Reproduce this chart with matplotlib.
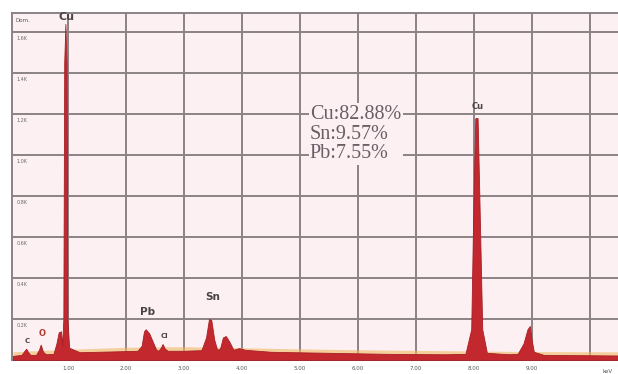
import matplotlib.pyplot as plt

# EDS spectrum: energy (keV) vs counts
energy = [0.05, 0.20, 0.25, 0.28, 0.31, 0.35, 0.45, 0.50, 0.53, 0.57, 0.62,
          0.75, 0.80, 0.84, 0.88, 0.90, 0.92, 0.935, 0.955, 0.975, 0.99, 1.02,
          1.2, 1.5, 1.8, 2.20, 2.27, 2.31, 2.34, 2.40, 2.46, 2.52, 2.56, 2.60,
          2.63, 2.67, 2.72, 3.0, 3.30, 3.38, 3.43, 3.47, 3.52, 3.57, 3.62,
          3.67, 3.72, 3.78, 3.85, 3.95, 4.05, 4.5, 5.5, 6.5, 7.5, 7.85, 7.95,
          7.99, 8.02, 8.06, 8.09, 8.14, 8.22, 8.6, 8.75, 8.85, 8.92, 8.96, 8.99,
          9.03, 9.2, 10.48]
counts = [20, 25, 45, 55, 40, 25, 25, 50, 75, 40, 28,
          30, 80, 135, 140, 70, 200, 1450, 1640, 1450, 200, 60,
          38, 40, 42, 45, 70, 140, 150, 130, 90, 50, 45, 60,
          78, 55, 45, 45, 48, 110, 200, 195, 100, 50, 55,
          110, 117, 90, 50, 58, 50, 40, 35, 30, 28, 30, 150,
          800, 1180, 1180, 800, 150, 35, 28, 30, 80, 150, 166, 100,
          40, 25, 22]

# continuum band under the peaks
bg_energy = [0.05, 1.0, 2.0, 3.0, 4.0, 5.0, 6.0, 7.0, 8.0, 9.0, 10.48]
bg_counts = [30, 42, 52, 55, 50, 44, 40, 37, 34, 31, 30]

peak_labels = [("Cu", 0.97, 1672, 8), ("Pb", 2.38, 232, 7.5), ("Sn", 3.49, 305, 7.5),
               ("Cl", 2.66, 118, 5), ("C", 0.30, 92, 5), ("O", 0.55, 130, 6),
               ("Cu", 8.06, 1235, 6)]
composition = ["Cu:82.88%", "Sn:9.57%", "Pb:7.55%"]
x_ticks = [1, 2, 3, 4, 5, 6, 7, 8, 9, 10]
x_tick_labels = ["1.00", "2.00", "3.00", "4.00", "5.00", "6.00", "7.00", "8.00", "9.00", ""]
y_ticks = [200, 400, 600, 800, 1000, 1200, 1400, 1600]
y_tick_labels = ["0.2K", "0.4K", "0.6K", "0.8K", "1.0K", "1.2K", "1.4K", "1.6K"]

bg = "#fcf0f3"
grid_c = "#8a8386"
red = "#c3282e"

fig = plt.figure(figsize=(6.18, 3.74), dpi=100, facecolor="white")
ax = fig.add_axes([12 / 618, 14 / 374, 606 / 618, 347 / 374])
ax.set_facecolor(bg)
ax.set_xlim(0.035, 10.48)
ax.set_ylim(0, 1693)

for x in x_ticks:
    ax.axvline(x, color=grid_c, lw=1.4, zorder=1)
for y in y_ticks:
    ax.axhline(y, color=grid_c, lw=1.4, zorder=1)

ax.fill_between(bg_energy, 0, [c + 10 for c in bg_counts], color="#f0b860", alpha=0.6, lw=0, zorder=2)
ax.fill_between(energy, 0, counts, color=red, lw=0.6, edgecolor="#a51f25", zorder=3)

for name, x, y, fs in peak_labels:
    c = "#b03a30" if name == "O" else "#4a4447"
    ax.text(x, y, name, ha="center", va="center", fontsize=fs, fontweight="bold",
            color=c, zorder=5, clip_on=False)

ax.text(5.17, 1245, "\n".join(composition), ha="left", va="top", multialignment="left",
        fontsize=14.5, family="Liberation Serif", color="#6b5d64", linespacing=1.05,
        zorder=6, bbox=dict(facecolor=bg, edgecolor="none", pad=1))

ax.text(0.1, 1655, "Dom.", fontsize=4, color="#555", va="center", ha="left")
for y, lab in zip(y_ticks, y_tick_labels):
    ax.text(0.12, y - 30, lab, fontsize=3.5, color="#6a6a6a", va="center", ha="left", zorder=4)

ax.set_xticks(x_ticks)
ax.set_xticklabels(x_tick_labels, fontsize=4, color="#555")
ax.text(10.3, -45, "keV", fontsize=4, color="#555", ha="center", va="top", clip_on=False)
ax.tick_params(axis="x", length=0, pad=4)
ax.set_yticks([])

for s in ["left", "top", "bottom"]:
    ax.spines[s].set_color(grid_c)
    ax.spines[s].set_linewidth(1.4)
ax.spines["right"].set_visible(False)

fig.savefig("out.png", dpi=100, facecolor="white")
